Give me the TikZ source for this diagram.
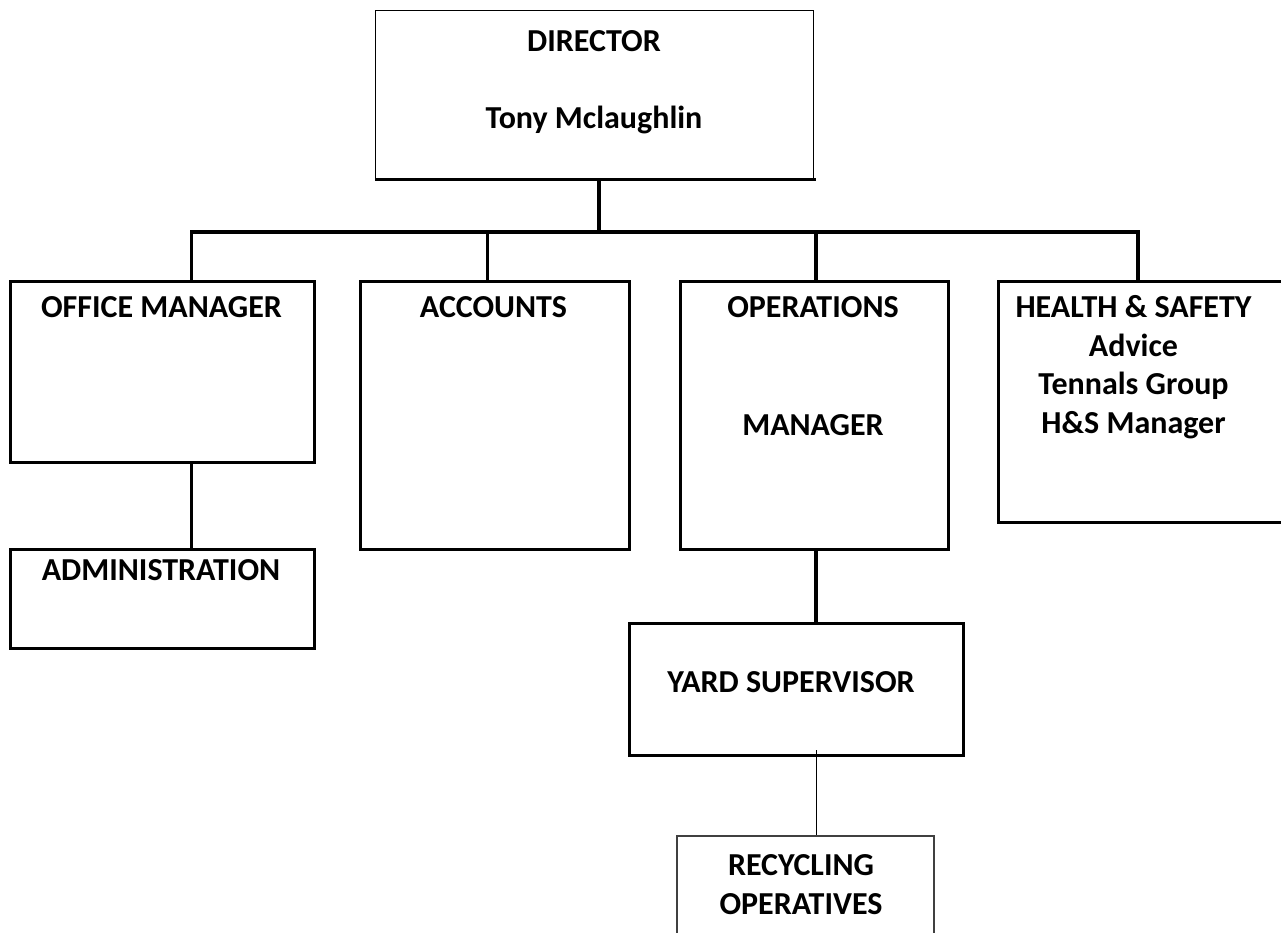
\documentclass[tikz,border=0pt]{standalone}
\usepackage{fontspec}
\setmainfont{Carlito}
\begin{document}
\begin{tikzpicture}[x=1pt,y=-1pt,
  box/.style={draw=black, line width=3.3pt, fill=none, inner sep=0pt, anchor=north west},
  thinbox/.style={draw=black, line width=1.3pt, inner sep=0pt, anchor=north west},
  recbox/.style={draw=black!75, line width=1.7pt, inner sep=0pt, anchor=north west},
  conn/.style={draw=black, line width=3.3pt},
  thinconn/.style={draw=black, line width=1.4pt},
  lbl/.style={font=\fontsize{32}{38}\selectfont\bfseries, anchor=base, inner sep=0pt}]
\useasboundingbox (0,0) rectangle (1281,932);
\clip (0,0) rectangle (1281,932);
\fill[white] (0,0) rectangle (1281,932);

% boxes
\node[thinbox, minimum width=438pt, minimum height=168pt] (dir) at (375,10) {};
\node[box, minimum width=304pt, minimum height=181.5pt] (om) at (9,279.5) {};
\node[box, minimum width=269pt, minimum height=268.5pt] (acc) at (359,279.5) {};
\node[box, minimum width=268pt, minimum height=268.5pt] (ops) at (679,279.5) {};
\node[box, minimum width=293pt, minimum height=241.5pt] (hs) at (997,279.5) {};
\node[box, minimum width=304pt, minimum height=99pt] (adm) at (9,548) {};
\node[box, minimum width=334pt, minimum height=132pt] (yard) at (628,622) {};
\node[recbox, minimum width=257pt, minimum height=120pt] (rec) at (676,835) {};

% director bottom thick edge
\coordinate (dirbr) at ([xshift=2pt]dir.south east);
\draw[conn] (dir.south west) -- (dirbr);

% junction coordinates
\coordinate (dj) at (599,232);
\coordinate (omj) at (191.7,232);
\coordinate (accj) at (487.7,232);
\coordinate (opsj) at (816,232);
\coordinate (hsj) at (1138,232);
\coordinate (admx) at (191.7,0);
\coordinate (yardx) at (816,0);
\coordinate (recx) at (816.5,750);

% connectors
\draw[conn] (dj |- dir.south) -- (dj);
\draw[conn] (omj |- om.north) -- (omj) -- (hsj) -- (hsj |- hs.north);
\draw[conn] (accj) -- (accj |- acc.north);
\draw[conn] (opsj) -- (opsj |- ops.north);
\draw[conn] (admx |- om.south) -- (admx |- adm.north);
\draw[conn] (yardx |- ops.south) -- (yardx |- yard.north);
\draw[thinconn] (recx) -- (recx |- rec.north);

% texts
\node[lbl] (t1) at (594,51.7) {DIRECTOR};
\node[lbl] (t2) at (594,128.3) {Tony Mclaughlin};
\node[lbl] (t3) at (161.5,317) {OFFICE MANAGER};
\node[lbl] (t4) at (493.5,317) {ACCOUNTS};
\node[lbl] (t5) at (813,317.5) {OPERATIONS};
\node[lbl] (t6) at (813,435) {MANAGER};
\node[lbl] (t7) at (1133.5,317.5) {HEALTH \& SAFETY};
\node[lbl] (t8) at (1133.5,356) {Advice};
\node[lbl] (t9) at (1133.5,394.5) {Tennals Group};
\node[lbl] (t10) at (1133.5,433) {H\&S Manager};
\node[lbl] (t11) at (161,580) {ADMINISTRATION};
\node[lbl] (t12) at (791,692.7) {YARD SUPERVISOR};
\node[lbl] (t13) at (801,875) {RECYCLING};
\node[lbl] (t14) at (801,914) {OPERATIVES};
\end{tikzpicture}
\end{document}
